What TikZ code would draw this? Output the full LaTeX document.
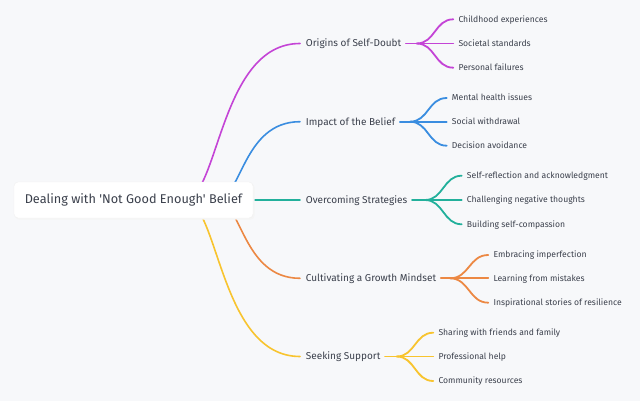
\documentclass[tikz,border=0pt]{standalone}
\usepackage{fontspec}
\setmainfont{Fira Sans}
\usetikzlibrary{calc}
\definecolor{bg}{HTML}{F7F8FA}
\definecolor{txt}{HTML}{3B404C}
\definecolor{cpur}{HTML}{C444D6}
\definecolor{cblu}{HTML}{3A8DE0}
\definecolor{ctea}{HTML}{22B09B}
\definecolor{cora}{HTML}{EC8843}
\definecolor{cyel}{HTML}{F8C42E}
\tikzset{
  main/.style={anchor=west,inner sep=0pt,text=txt,text height=6.9pt,text depth=0pt,font=\fontsize{10}{12}\selectfont},
  leaf/.style={anchor=west,inner sep=0pt,text=txt,text height=5.9pt,text depth=0pt,font=\fontsize{8.6}{10}\selectfont},
  rootbox/.style={fill=white,draw=black!6,rounded corners=4pt,minimum width=239pt,minimum height=36pt,text=txt,font=\fontsize{12.7}{15}\selectfont},
  br/.style={line width=1.6pt,line cap=round},
  lf/.style={line width=1.8pt,line cap=round},
  sb/.style={to path={let \p1=(\tikztostart),\p2=(\tikztotarget) in .. controls ({(\x1+\x2)/2},\y1) and ({(\x1+\x2)/2},\y2) .. (\p2)}}
}
\begin{document}
\begin{tikzpicture}[x=1pt,y=-1pt]
\fill[bg] (0,0) rectangle (640,401);
\useasboundingbox (0,0) rectangle (640,401);
% main-level labels
\node[main] (m1) at (305.7,43.5) {Origins of Self-Doubt};
\node[main] (m2) at (305.7,121.7) {Impact of the Belief};
\node[main] (m3) at (305.7,200) {Overcoming Strategies};
\node[main] (m4) at (305.7,278.3) {Cultivating a Growth Mindset};
\node[main] (m5) at (305.7,356.5) {Seeking Support};
% leaves
\node[leaf] (a1) at (458.3,19.3) {Childhood experiences};
\node[leaf] (a2) at (458.3,43.5) {Societal standards};
\node[leaf] (a3) at (458.3,67.7) {Personal failures};
\node[leaf] (b1) at (451.7,98) {Mental health issues};
\node[leaf] (b2) at (451.7,121.7) {Social withdrawal};
\node[leaf] (b3) at (451.7,145.7) {Decision avoidance};
\node[leaf] (c1) at (466.7,175.7) {Self-reflection and acknowledgment};
\node[leaf] (c2) at (466.7,200) {Challenging negative thoughts};
\node[leaf] (c3) at (466.7,224.3) {Building self-compassion};
\node[leaf] (d1) at (493.3,255) {Embracing imperfection};
\node[leaf] (d2) at (493.3,278.3) {Learning from mistakes};
\node[leaf] (d3) at (493.3,302.7) {Inspirational stories of resilience};
\node[leaf] (e1) at (438.3,332.7) {Sharing with friends and family};
\node[leaf] (e2) at (438.3,356.5) {Professional help};
\node[leaf] (e3) at (438.3,381) {Community resources};
% hidden start points inside root box
\coordinate (s1) at (184,200);
\coordinate (s2) at (216,200);
\coordinate (s3) at (200,200);
% main branches
\draw[br,cpur] (s1) .. controls +(35,0) and +(-81,0) .. ([xshift=-5.7]m1.west);
\draw[br,cblu] (s2) .. controls +(26,0) and +(-58,0) .. ([xshift=-5.7]m2.west);
\draw[br,ctea] (s3) -- ([xshift=-5.7]m3.west);
\draw[br,cora] (s2) .. controls +(26,0) and +(-58,0) .. ([xshift=-5.7]m4.west);
\draw[br,cyel] (s1) .. controls +(35,0) and +(-81,0) .. ([xshift=-5.7]m5.west);
% root
\fill[black!4,rounded corners=4pt] (15,183.5) rectangle (254.5,219.5);
\node[rootbox] (root) at (133.5,200) {Dealing with \textquotesingle Not Good Enough\textquotesingle{} Belief};
% forks
\coordinate (fa) at ([xshift=-41.6]a2.west);
\coordinate (fb) at ([xshift=-41.7]b2.west);
\coordinate (fc) at ([xshift=-41.7]c2.west);
\coordinate (fd) at ([xshift=-43.3]d2.west);
\coordinate (fe) at ([xshift=-41.6]e2.west);
\foreach \p/\f/\c/\col in {m1/fa/a/cpur,m2/fb/b/cblu,m3/fc/c/ctea,m4/fd/d/cora,m5/fe/e/cyel}{
  \draw[lf,\col] ([xshift=4.5]\p.east) -- (\f);
  \foreach \i in {1,2,3}{
    \draw[lf,\col] (\f) to[sb] ([xshift=-5]\c\i.west);
  }
}
\end{tikzpicture}
\end{document}
